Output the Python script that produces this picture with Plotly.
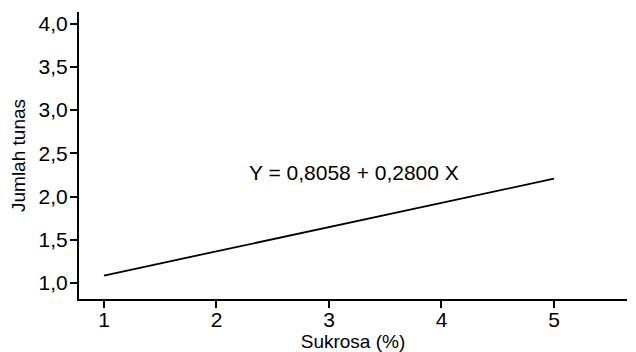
import plotly.graph_objects as go

# Data
sukrosa = [1, 5]
jumlah_tunas = [1.0858, 2.2058]
equation_text = "Y = 0,8058 + 0,2800 X"
x_ticks = [1, 2, 3, 4, 5]
y_ticks = [1.0, 1.5, 2.0, 2.5, 3.0, 3.5, 4.0]

FONT = "Liberation Sans, Arial, sans-serif"

fig = go.Figure()
fig.add_trace(go.Scatter(x=sukrosa, y=jumlah_tunas, mode="lines",
                         line=dict(color="black", width=1.8), showlegend=False))

fig.add_annotation(x=3.22, y=2.28, text=equation_text, showarrow=False,
                   font=dict(family=FONT, size=21, color="black"))

# the page adds an 8px body margin, so the figure is sized to fit the window
fig.update_layout(
    width=628, height=344,
    margin=dict(l=71, r=9, t=4, b=53),
    paper_bgcolor="white", plot_bgcolor="white",
    separators=",.",
    font=dict(family=FONT, size=20, color="black"),
)
fig.update_xaxes(range=[0.778, 5.649], tickvals=x_ticks, ticks="outside", ticklen=7,
                 tickwidth=2, tickcolor="black", showline=True, linecolor="black",
                 linewidth=2, showgrid=False, zeroline=False, automargin=False,
                 tickfont=dict(size=21), ticklabelstandoff=-6,
                 title=dict(text="Sukrosa (%)", standoff=7, font=dict(size=19)))
fig.update_yaxes(range=[0.814, 4.135], tickvals=y_ticks, tickformat=".1f", ticks="outside",
                 ticklen=7, tickwidth=2, tickcolor="black", showline=True,
                 linecolor="black", linewidth=2, showgrid=False, zeroline=False,
                 automargin=False, tickfont=dict(size=21), ticklabelstandoff=-2,
                 title=dict(text="Jumlah tunas", standoff=12, font=dict(size=19)))

fig.write_html("out.html")
